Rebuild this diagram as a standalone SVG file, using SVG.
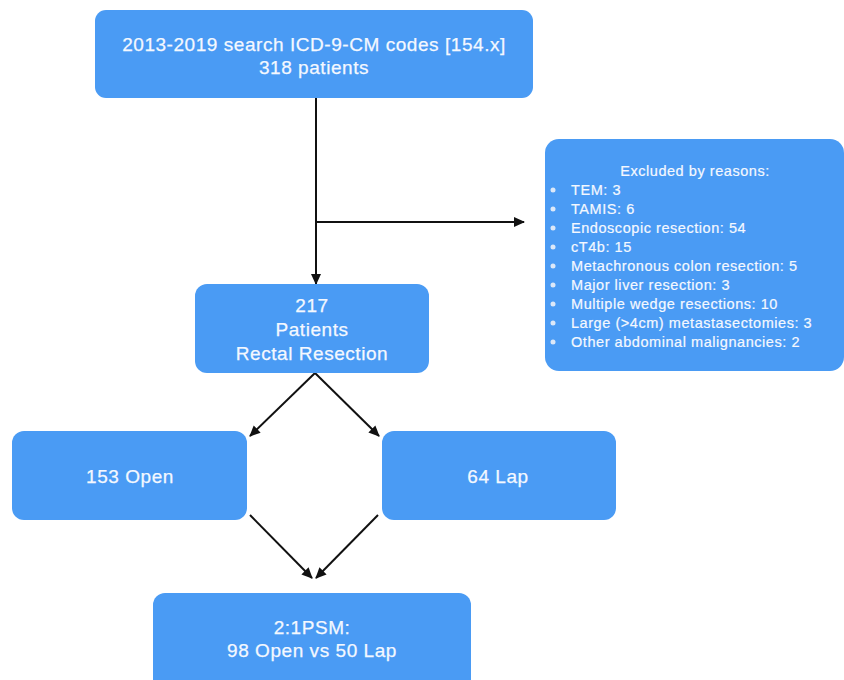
<svg xmlns="http://www.w3.org/2000/svg" width="844" height="680" viewBox="0 0 844 680">
<defs>
<marker id="ah" markerWidth="11" markerHeight="11" refX="10" refY="5.5" orient="auto" markerUnits="userSpaceOnUse">
<path d="M0,0.5 L11,5.5 L0,10.5 Z" fill="#111"/>
</marker>
<style>
.box{fill:#4A9BF4;}
.t{font-family:"Liberation Sans",Arial,sans-serif;fill:#F4F8FF;stroke:#F4F8FF;stroke-width:0.25px;font-size:19px;letter-spacing:0.55px;text-anchor:middle;}
.s{font-family:"Liberation Sans",Arial,sans-serif;fill:#F4F8FF;stroke:#F4F8FF;stroke-width:0.2px;font-size:14.5px;letter-spacing:0.55px;}
.c{stroke:#111;stroke-width:2;fill:none;}
.b{fill:#DCE8F8;}
</style>
</defs>
<rect width="844" height="680" fill="#ffffff"/>
<g id="connectors">
<line class="c" x1="316" y1="98" x2="316" y2="284" marker-end="url(#ah)"/>
<line class="c" x1="316" y1="222" x2="524" y2="222" marker-end="url(#ah)"/>
<line class="c" x1="315" y1="373" x2="250" y2="436" marker-end="url(#ah)"/>
<line class="c" x1="315" y1="373" x2="379" y2="436" marker-end="url(#ah)"/>
<line class="c" x1="250" y1="515" x2="312" y2="578" marker-end="url(#ah)"/>
<line class="c" x1="378" y1="515" x2="316" y2="578" marker-end="url(#ah)"/>
</g>
<g id="search">
<rect class="box" x="95" y="10" width="438" height="88" rx="11"/>
<text class="t" x="314" y="51">2013-2019 search ICD-9-CM codes [154.x]</text>
<text class="t" x="314" y="74">318 patients</text>
</g>
<g id="excluded">
<rect class="box" x="545" y="139" width="299" height="232" rx="14"/>
<text class="s" x="695" y="176" text-anchor="middle">Excluded by reasons:</text>
<circle class="b" cx="553" cy="190" r="2.5"/><text class="s" x="571" y="195">TEM: 3</text>
<circle class="b" cx="553" cy="209" r="2.5"/><text class="s" x="571" y="214">TAMIS: 6</text>
<circle class="b" cx="553" cy="228" r="2.5"/><text class="s" x="571" y="233">Endoscopic resection: 54</text>
<circle class="b" cx="553" cy="247" r="2.5"/><text class="s" x="571" y="252">cT4b: 15</text>
<circle class="b" cx="553" cy="266" r="2.5"/><text class="s" x="571" y="271">Metachronous colon resection: 5</text>
<circle class="b" cx="553" cy="285" r="2.5"/><text class="s" x="571" y="290">Major liver resection: 3</text>
<circle class="b" cx="553" cy="304" r="2.5"/><text class="s" x="571" y="309">Multiple wedge resections: 10</text>
<circle class="b" cx="553" cy="323" r="2.5"/><text class="s" x="571" y="328">Large (&gt;4cm) metastasectomies: 3</text>
<circle class="b" cx="553" cy="342" r="2.5"/><text class="s" x="571" y="347">Other abdominal malignancies: 2</text>
</g>
<g id="rectal">
<rect class="box" x="195" y="284" width="234" height="89" rx="12"/>
<text class="t" x="312" y="312">217</text>
<text class="t" x="312" y="336">Patients</text>
<text class="t" x="312" y="360">Rectal Resection</text>
</g>
<g id="open">
<rect class="box" x="12" y="431" width="235" height="89" rx="12"/>
<text class="t" x="130" y="483">153 Open</text>
</g>
<g id="lap">
<rect class="box" x="382" y="431" width="234" height="89" rx="12"/>
<text class="t" x="498" y="483">64 Lap</text>
</g>
<g id="psm">
<rect class="box" x="153" y="593" width="318" height="100" rx="12"/>
<text class="t" x="312" y="634">2:1PSM:</text>
<text class="t" x="312" y="657">98 Open vs 50 Lap</text>
</g>
</svg>
